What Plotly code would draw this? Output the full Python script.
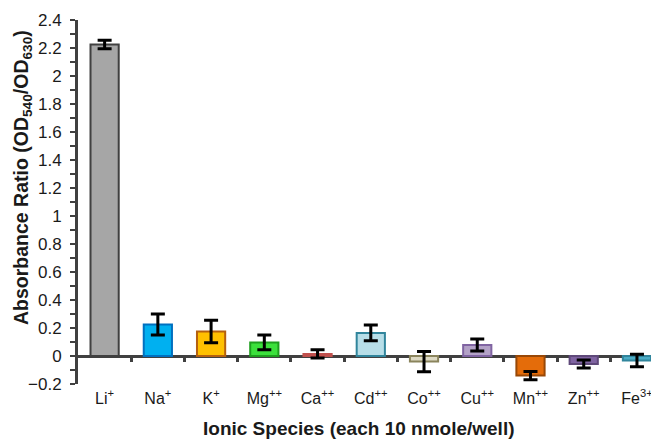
import plotly.graph_objects as go

categories = ["Li<sup>+</sup>", "Na<sup>+</sup>", "K<sup>+</sup>", "Mg<sup>++</sup>", "Ca<sup>++</sup>",
              "Cd<sup>++</sup>", "Co<sup>++</sup>", "Cu<sup>++</sup>", "Mn<sup>++</sup>", "Zn<sup>++</sup>",
              "Fe<sup>3+</sup>"]
values = [2.225, 0.225, 0.175, 0.097, 0.015, 0.165, -0.04, 0.078, -0.14, -0.057, -0.032]
errors = [0.03, 0.075, 0.08, 0.053, 0.03, 0.056, 0.072, 0.043, 0.03, 0.028, 0.045]
fill_colors = ["#A6A6A6", "#00B0F0", "#FFC000", "#3CE03C", "#F2DCDB", "#B7DEE8",
               "#DDD9C3", "#B3A2C7", "#E46C0A", "#8064A2", "#4BACC6"]
line_colors = ["#404040", "#0070C0", "#B5600F", "#1E9E1E", "#C0504D", "#31859C",
               "#8A845C", "#8064A2", "#984807", "#5F497A", "#31859C"]
boundary_ticks = [0.5, 1.5, 2.5, 3.5, 4.5, 5.5, 6.5, 7.5, 8.5, 9.5]
x_title = "<b>Ionic Species (each 10 nmole/well)</b>"
y_title = "<b>Absorbance Ratio (OD<sub>540</sub>/OD<sub>630</sub>)</b>"

fig = go.Figure()
fig.add_trace(go.Bar(
    x=categories, y=values, width=0.53,
    marker=dict(color=fill_colors, line=dict(color=line_colors, width=2)),
    error_y=dict(type="data", array=errors, visible=True, color="black", thickness=3, width=7),
    showlegend=False, hoverinfo="skip",
))
# invisible helper trace to draw boundary ticks on the zero line
fig.add_trace(go.Scatter(x=boundary_ticks, y=[0] * len(boundary_ticks), xaxis="x2", yaxis="y",
                         mode="markers", marker=dict(opacity=0), showlegend=False, hoverinfo="skip"))

font_family = "Liberation Sans, Arial, sans-serif"
zero_frac = 0.2 / 2.6

fig.update_layout(
    width=651, height=432,
    margin=dict(l=70, r=0, t=12, b=56),
    paper_bgcolor="white", plot_bgcolor="white",
    font=dict(family=font_family, color="#1a1a1a", size=16),
    xaxis=dict(
        type="category", range=[-0.5, 10.414], showline=False, showgrid=False, zeroline=False,
        ticks="", tickfont=dict(size=16, color="#1a1a1a"), automargin=False,
        ticklabelstandoff=3,
    ),
    xaxis2=dict(
        type="linear", range=[-0.5, 10.414], overlaying="x", anchor="free", position=zero_frac,
        showline=False, showgrid=False, zeroline=False, showticklabels=False,
        tickmode="array", tickvals=boundary_ticks, ticks="outside", ticklen=5, tickwidth=3,
        tickcolor="#404040", automargin=False,
    ),
    yaxis=dict(
        range=[-0.2, 2.4], dtick=0.2, showgrid=False, automargin=False,
        showline=True, linecolor="#404040", linewidth=3,
        zeroline=True, zerolinecolor="#404040", zerolinewidth=3,
        ticks="outside", ticklen=5, tickwidth=2, tickcolor="#404040",
        minor=dict(dtick=0.1, ticks="outside", ticklen=5, tickwidth=2, tickcolor="#404040"),
        tickfont=dict(size=17, color="#1a1a1a"), tickformat="~g",
        ticklabelstandoff=5,
    ),
    annotations=[
        dict(text=x_title, xref="paper", yref="paper", x=(351 - 70) / 581, y=-44 / 364,
             xanchor="center", yanchor="middle", showarrow=False,
             font=dict(size=19, color="#1a1a1a")),
        dict(text=y_title, xref="paper", yref="paper", x=-56 / 581, y=(376 - 170) / 364,
             xanchor="center", yanchor="middle", showarrow=False, textangle=-90,
             font=dict(size=19.5, color="#1a1a1a")),
    ],
)

fig.write_html("out.html")
